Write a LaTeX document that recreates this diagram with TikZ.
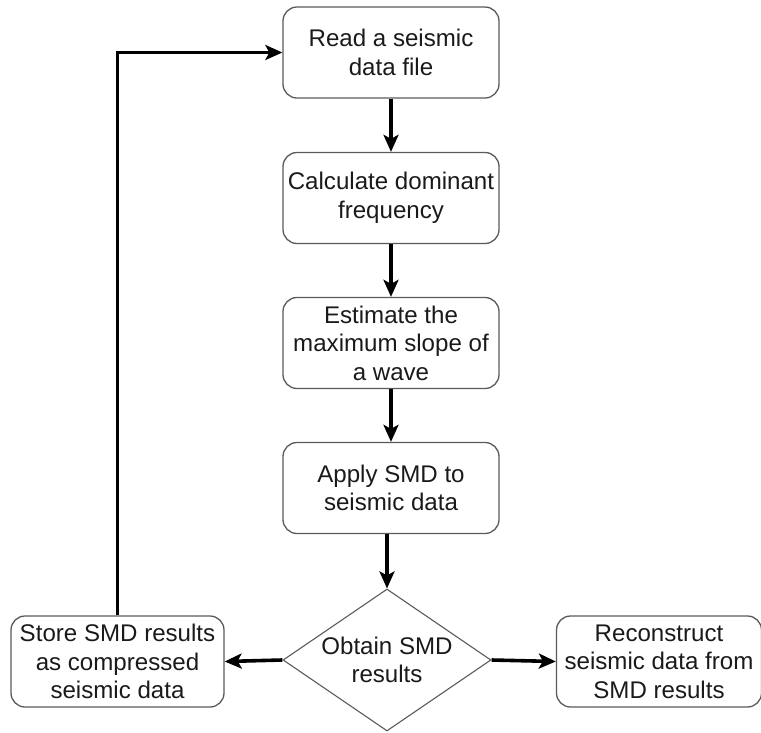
\documentclass[tikz,border=0pt]{standalone}
\usepackage{fontspec}
\setmainfont{Liberation Sans}
\usetikzlibrary{arrows.meta,shapes.geometric}
\definecolor{edgegray}{HTML}{5A5A5A}
\definecolor{inkblack}{HTML}{1A1A1A}
\begin{document}
\begin{tikzpicture}[x=1pt,y=-1pt,
  every node/.style={font=\fontsize{24.1pt}{28.5pt}\selectfont, text=inkblack, align=center},
  stepbox/.style={draw=edgegray, line width=1.3pt, rounded corners=14pt,
    minimum width=216pt, minimum height=91pt, inner sep=0pt},
  sidebox/.style={stepbox, minimum width=213pt},
  decision/.style={draw=edgegray, line width=1.1pt, diamond, aspect=1.444,
    minimum width=208pt, minimum height=142pt, inner sep=0pt},
  flow/.style={draw=black, line width=3.6pt,
    -{Stealth[length=17pt,width=15pt,inset=4pt]}}
]
\useasboundingbox (0,0) rectangle (761,732);

\node[stepbox] (read) at (391,52.5) {Read a seismic\\data file};
\node[stepbox] (freq) at (391,198) {Calculate dominant\\frequency};
\node[stepbox] (slope) at (391,343) {Estimate the\\maximum slope of\\a wave};
\node[stepbox] (apply) at (391,488) {Apply SMD to\\seismic data};
\node[decision] (obtain) at (387,660) {Obtain SMD\\results};
\node[sidebox] (store) at (117.5,661.5) {Store SMD results\\as compressed\\seismic data};
\node[stepbox, minimum width=205pt] (recon) at (659,661.5) {Reconstruct\\seismic data from\\SMD results};

\draw[flow] (read) -- (freq);
\draw[flow] (freq) -- (slope);
\draw[flow] (slope) -- (apply);
\draw[flow] (apply.south -| obtain.north) -- (obtain.north);
\draw[flow] (obtain.west) -- (store.east);
\draw[flow] (obtain.east) -- (recon.west);
\draw[flow] (store.north) |- (read.west);
\end{tikzpicture}
\end{document}
